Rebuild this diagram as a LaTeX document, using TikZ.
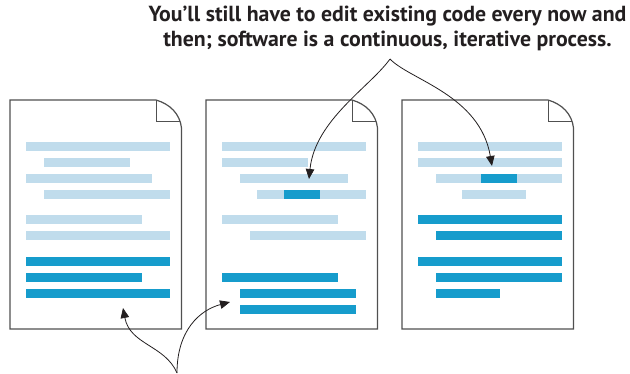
\documentclass[tikz,border=0pt]{standalone}
\usepackage{fontspec}
\setmainfont{PT Sans}
\usetikzlibrary{arrows.meta}
\definecolor{lightbar}{HTML}{C0DCEC}
\definecolor{darkbar}{HTML}{169CCC}
\definecolor{pageline}{HTML}{505050}
\definecolor{ink}{HTML}{231F20}
\tikzset{
  pageoutline/.style={draw=pageline, line width=1.2pt, fill=white},
  foldline/.style={draw=pageline, line width=1.0pt},
  lbar/.style={fill=lightbar},
  dbar/.style={fill=darkbar},
  conn/.style={draw=ink, line width=0.8pt, -{Triangle[length=10pt,width=8.5pt]}},
  note/.style={font=\bfseries\fontsize{21.8}{25}\selectfont, align=center, inner sep=0pt, text=ink}
}
% page: #1 = left x
\newcommand\mypage[1]{%
  \draw[pageoutline] (#1,100) -- (#1+146,100)
     .. controls (#1+160,104) and (#1+170,114) .. (#1+171.5,128)
     -- (#1+171.5,329) -- (#1,329) -- cycle;
  \draw[foldline] (#1+146,100) -- (#1+146,121.7) -- (#1+169.5,121.7);
}
% bar: #1 x1, #2 x2, #3 y centre, #4 style
\newcommand\mybar[4]{\fill[#4] (#1,#3-4.5) rectangle (#2,#3+4.5);}
\begin{document}
\begin{tikzpicture}[x=1pt,y=-1pt]
\useasboundingbox (0,0) rectangle (630,374);
% pages
\mypage{10}
\mypage{206}
\mypage{402}
% page 1 bars
\mybar{26}{170}{147}{lbar}
\mybar{44}{130}{163}{lbar}
\mybar{26}{152}{179}{lbar}
\mybar{44}{170}{195}{lbar}
\mybar{26}{142}{220}{lbar}
\mybar{26}{170}{236}{lbar}
\mybar{26}{170}{262}{dbar}
\mybar{26}{142}{278}{dbar}
\mybar{26}{170}{294}{dbar}
% page 2 bars
\mybar{222}{366}{147}{lbar}
\mybar{222}{308}{163}{lbar}
\mybar{240}{348}{179}{lbar}
\mybar{257}{366}{195}{lbar}
\mybar{284}{320}{195}{dbar}
\mybar{222}{338}{220}{lbar}
\mybar{250}{366}{236}{lbar}
\mybar{222}{338}{278}{dbar}
\mybar{240}{356}{294}{dbar}
\mybar{240}{356}{310}{dbar}
% page 3 bars
\mybar{418}{562}{147}{lbar}
\mybar{418}{562}{163}{lbar}
\mybar{436}{562}{179}{lbar}
\mybar{481}{517}{179}{dbar}
\mybar{462}{526}{195}{lbar}
\mybar{418}{562}{220}{dbar}
\mybar{436}{562}{236}{dbar}
\mybar{418}{562}{262}{dbar}
\mybar{436}{562}{278}{dbar}
\mybar{436}{500}{294}{dbar}
% annotation
\node[note, anchor=north] (txt) at (387.5,6) {You’ll still have to edit existing code every now and\\then; software is a continuous, iterative process.};
% connector points
\coordinate (topfork) at (390,59);
\coordinate (tipA) at (309,179);
\coordinate (tipB) at (492,166);
\coordinate (botfork) at (177,373);
\coordinate (tipC) at (123,308);
\coordinate (tipD) at (230,302);
\draw[conn] (topfork) .. controls (370,87) and (315,120) .. (tipA);
\draw[conn] (topfork) .. controls (410,80) and (480,95) .. (tipB);
\draw[conn] (botfork) .. controls (165,345) and (130,345) .. (tipC);
\draw[conn] (botfork) .. controls (177,330) and (200,310) .. (tipD);
\end{tikzpicture}
\end{document}
